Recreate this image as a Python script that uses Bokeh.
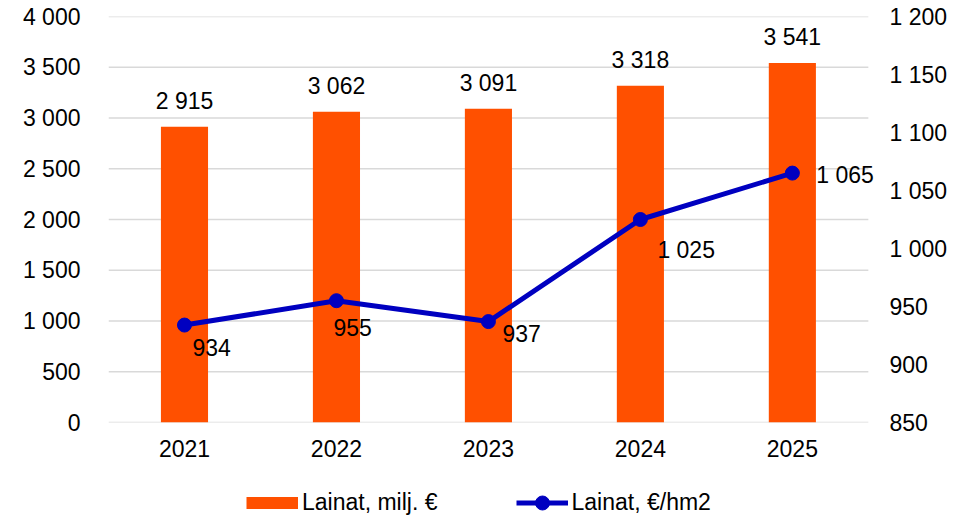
from bokeh.plotting import figure
from bokeh.layouts import column
from bokeh.models import (Range1d, LinearAxis, SingleIntervalTicker, FixedTicker,
                          CustomJSTickFormatter, ColumnDataSource, Legend, LegendItem)
from bokeh.core.properties import value
from bokeh.embed import file_html
from bokeh.resources import INLINE

# Data
years = ["2021", "2022", "2023", "2024", "2025"]
loans_meur = [2915, 3062, 3091, 3318, 3541]      # Lainat, milj. €
loans_per_ha = [934, 955, 937, 1025, 1065]       # Lainat, €/hm2
left_ticks = [0, 500, 1000, 1500, 2000, 2500, 3000, 3500, 4000]
series_names = ["Lainat, milj. €", "Lainat, €/hm2"]

# Label placement for the line's value labels (screen px)
line_label_dx = [8, -3, 14, 17, 24]
line_label_dy = [22, 27, 12, 30, 2]

FONT = "Liberation Sans"
FS = "23px"
BAR_COLOR = "#FF5000"
LINE_COLOR = "#0000C0"
GRID_COLOR = "#D9D9D9"
NAN = float("nan")


def fmt(v):
    return f"{v:,}".replace(",", " ")


# Categories sit at the centres 0.5, 1.5, ... of unit-wide slots
xpos = [i + 0.5 for i in range(len(years))]
n_slots = len(years)

p = figure(width=966, height=472, output_backend="svg", toolbar_location=None,
           x_range=Range1d(0, n_slots + 0.08),
           y_range=Range1d(0, 4000),
           min_border_left=108, min_border_right=86, min_border_top=16,
           min_border_bottom=50)
p.extra_y_ranges = {"hm2": Range1d(850, 1200)}
p.outline_line_color = None
p.background_fill_color = "white"
p.border_fill_color = "white"
p.xgrid.grid_line_color = None
p.ygrid.grid_line_color = None

# Horizontal gridlines across the category slots
p.segment(x0=0, x1=n_slots, y0=left_ticks, y1=left_ticks,
          line_color=GRID_COLOR, line_width=1.5)

bar_src = ColumnDataSource(dict(x=xpos, y=loans_meur,
                                label=[fmt(v) for v in loans_meur]))
line_src = ColumnDataSource(dict(x=xpos, y=loans_per_ha,
                                 label=[fmt(v) for v in loans_per_ha],
                                 dx=line_label_dx, dy=line_label_dy))

p.vbar(x="x", top="y", width=0.31, source=bar_src,
       fill_color=BAR_COLOR, line_color=None)
p.text(x="x", y="y", text="label", source=bar_src, text_align="center",
       text_baseline="alphabetic", y_offset=-26, text_font=value(FONT),
       text_font_size=FS, text_color="black")

p.line(x="x", y="y", source=line_src, y_range_name="hm2",
       line_color=LINE_COLOR, line_width=5)
p.scatter(x="x", y="y", source=line_src, y_range_name="hm2",
          marker="circle", size=14, fill_color=LINE_COLOR,
          line_color=LINE_COLOR)
p.text(x="x", y="y", text="label", source=line_src, y_range_name="hm2",
       x_offset="dx", y_offset="dy", text_align="left",
       text_baseline="alphabetic", text_font=value(FONT), text_font_size=FS,
       text_color="black")

thousands = CustomJSTickFormatter(
    code=r"return tick.toString().replace(/\B(?=(\d{3})+(?!\d))/g, ' ');")


def style_axis(ax, standoff):
    ax.axis_line_color = None
    ax.major_tick_line_color = None
    ax.minor_tick_line_color = None
    ax.major_tick_out = 0
    ax.major_tick_in = 0
    ax.minor_tick_out = 0
    ax.major_label_standoff = standoff
    ax.major_label_text_font = FONT
    ax.major_label_text_font_size = FS
    ax.major_label_text_color = "black"


# Left axis
yl = p.yaxis[0]
yl.ticker = FixedTicker(ticks=left_ticks)
yl.formatter = thousands
style_axis(yl, 28)

# Right axis
yr = LinearAxis(y_range_name="hm2", ticker=SingleIntervalTicker(interval=50),
                formatter=thousands)
style_axis(yr, 9)
p.add_layout(yr, "right")

# Bottom axis with the year names
xa = p.xaxis[0]
xa.ticker = FixedTicker(ticks=xpos)
xa.major_label_overrides = {x: y for x, y in zip(xpos, years)}
style_axis(xa, 17)

# Legend strip underneath the chart
lg = figure(width=966, height=44, output_backend="svg", toolbar_location=None,
            x_range=Range1d(0, 1), y_range=Range1d(0, 1),
            min_border_left=0, min_border_right=0, min_border_top=0,
            min_border_bottom=0)
lg.axis.visible = False
lg.grid.grid_line_color = None
lg.outline_line_color = None
lg.border_fill_color = "white"
bar_key = lg.line(x=[NAN], y=[NAN], line_color=BAR_COLOR, line_width=12,
                  line_cap="butt")
line_key = lg.line(x=[NAN], y=[NAN], line_color=LINE_COLOR, line_width=5)
dot_key = lg.scatter(x=[NAN], y=[NAN], marker="circle", fill_color=LINE_COLOR,
                     line_color=LINE_COLOR)

legend = Legend(items=[LegendItem(label=series_names[0], renderers=[bar_key]),
                       LegendItem(label=series_names[1],
                                  renderers=[line_key, dot_key])],
                orientation="horizontal", location=(138, -4),
                glyph_width=52, glyph_height=35, label_standoff=4, spacing=78,
                padding=0, margin=0, border_line_color=None,
                background_fill_alpha=0, label_text_font=FONT,
                label_text_font_size=FS, label_text_color="black")
lg.add_layout(legend, "center")

open("out.html", "w").write(file_html(column(p, lg, spacing=0), INLINE))
